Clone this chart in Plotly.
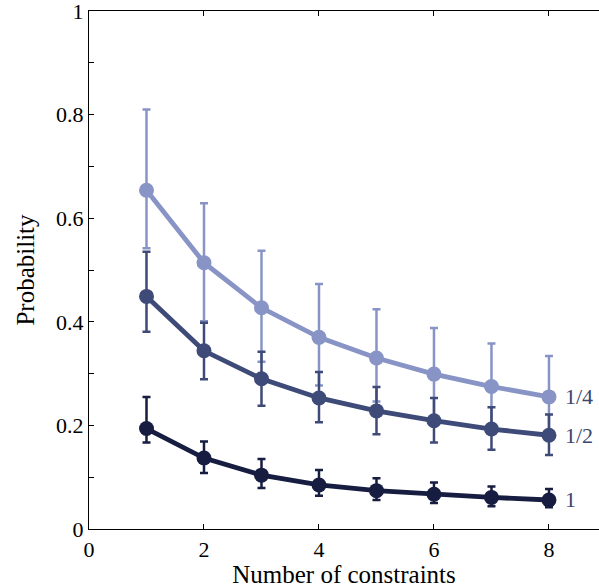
import plotly.graph_objects as go

# ---- data ----
constraints = [1, 2, 3, 4, 5, 6, 7, 8]

p_quarter = [0.654, 0.514, 0.427, 0.370, 0.330, 0.299, 0.275, 0.255]
p_quarter_hi = [0.810, 0.629, 0.537, 0.473, 0.424, 0.388, 0.358, 0.334]
p_quarter_lo = [0.542, 0.401, 0.323, 0.277, 0.246, 0.214, 0.196, 0.180]

p_half = [0.449, 0.344, 0.290, 0.253, 0.228, 0.209, 0.193, 0.181]
p_half_hi = [0.535, 0.398, 0.342, 0.303, 0.274, 0.253, 0.235, 0.221]
p_half_lo = [0.381, 0.289, 0.238, 0.206, 0.183, 0.167, 0.153, 0.143]

p_one = [0.194, 0.137, 0.104, 0.085, 0.074, 0.067, 0.061, 0.056]
p_one_hi = [0.255, 0.169, 0.135, 0.114, 0.098, 0.090, 0.082, 0.077]
p_one_lo = [0.167, 0.108, 0.079, 0.064, 0.056, 0.050, 0.044, 0.042]

series_labels = ["1/4", "1/2", "1"]
y_ticks = [0, 0.2, 0.4, 0.6, 0.8, 1]
y_tick_text = ["0", "0.2", "0.4", "0.6", "0.8", "1"]
x_ticks = [0, 2, 4, 6, 8]
x_range = [0, 8.87]

colors = ["#8894c6", "#3e4a77", "#161d40"]
label_color = "#3a4570"
FONT = "Liberation Serif"

series = [
    (p_quarter, p_quarter_hi, p_quarter_lo),
    (p_half, p_half_hi, p_half_lo),
    (p_one, p_one_hi, p_one_lo),
]

fig = go.Figure()
for (vals, hi, lo), col, lab in zip(series, colors, series_labels):
    fig.add_trace(go.Scatter(
        x=constraints, y=vals, mode="lines+markers",
        line=dict(color=col, width=4.8),
        marker=dict(color=col, size=15),
        error_y=dict(type="data", symmetric=False,
                     array=[h - v for h, v in zip(hi, vals)],
                     arrayminus=[v - l for v, l in zip(vals, lo)],
                     color=col, thickness=2.5, width=4),
        showlegend=False, name=lab, hoverinfo="skip",
    ))
    fig.add_annotation(x=constraints[-1] + 0.25, y=vals[-1], text=lab,
                       showarrow=False, xanchor="left", yanchor="middle",
                       font=dict(family=FONT, size=22, color=label_color))

# invisible helper trace to activate the top axis
fig.add_trace(go.Scatter(x=[constraints[0]], y=[p_one[0]], xaxis="x2",
                         mode="markers", marker=dict(opacity=0),
                         showlegend=False, hoverinfo="skip"))

fig.update_layout(
    width=599, height=588,
    margin=dict(l=89, r=0, t=11, b=59),
    paper_bgcolor="white", plot_bgcolor="white",
    font=dict(family=FONT, size=22, color="black"),
    xaxis=dict(range=x_range, tickvals=x_ticks, ticks="inside", ticklen=5,
               tickwidth=1.3, tickcolor="black", showline=True, linecolor="black",
               linewidth=1.3, showgrid=False, zeroline=False,
               title=dict(text="Number of constraints", standoff=4,
                          font=dict(family=FONT, size=25)),
               tickfont=dict(family=FONT, size=22)),
    xaxis2=dict(range=x_range, tickvals=x_ticks[1:], ticks="inside", ticklen=5,
                tickwidth=1.3, tickcolor="black", showline=True, linecolor="black",
                linewidth=1.3, showgrid=False, zeroline=False, side="top",
                overlaying="x", showticklabels=False),
    yaxis=dict(range=[0, 1], tickvals=y_ticks, ticktext=y_tick_text,
               ticks="inside", ticklen=5, tickwidth=1.3, tickcolor="black",
               showline=True, linecolor="black", linewidth=1.3,
               showgrid=False, zeroline=False, ticklabeloverflow="allow",
               minor=dict(dtick=0.1, ticks="inside", ticklen=5, tickwidth=1.3,
                          tickcolor="black", showgrid=False),
               title=dict(text="Probability", standoff=14,
                          font=dict(family=FONT, size=25)),
               tickfont=dict(family=FONT, size=22)),
)

fig.write_html("out.html", config={"displayModeBar": False},
               post_script="document.body.style.margin='0';"
                           "document.body.style.overflow='hidden';")
